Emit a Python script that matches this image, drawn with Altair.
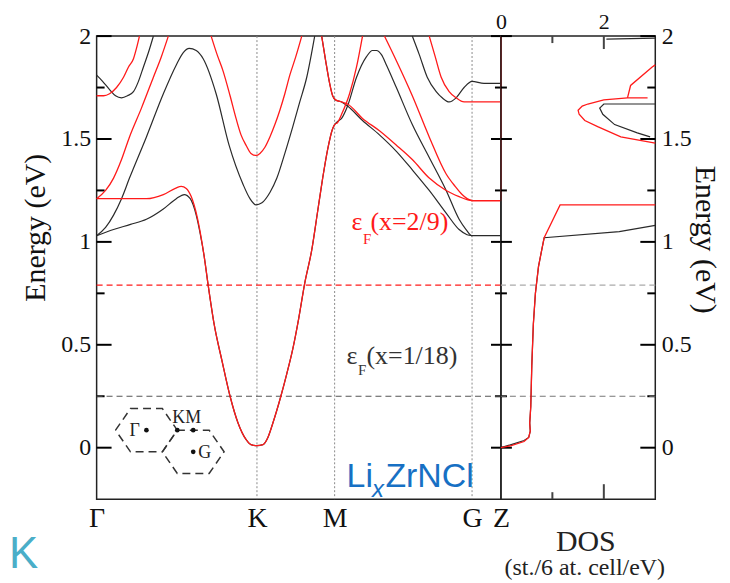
import altair as alt
import pandas as pd

SERIF = "Liberation Serif"
SANS = "Liberation Sans"
BLK = "#222222"
RED = "#ff1a1a"
TICKC = "#000000"

# ---------------- k-path and axes ----------------
KPATH_POS = [0.0, 1.61, 2.39, 3.77, 4.06]
KPATH_LAB = ["Γ", "K", "M", "G", "Z"]
SYM_LINES = [1.61, 2.39, 3.77]
E_MAJOR = [0, 0.5, 1, 1.5, 2]
E_MINOR = [0.25, 0.75, 1.25, 1.75]
DOS_LABELS = [0, 2]
DOS_MAJOR = [2]
DOS_MINOR = [1]
EF_HIGH = [0.79]   # eF(x=2/9)
EF_LOW = [0.25]    # eF(x=1/18)

K_MIN, K_MAX = 0.0, 4.06
E_MIN, E_MAX = -0.25, 2.0
D_MIN, D_MAX = 0.0, 3.0

# ---------------- bands (black: x=1/18, red: x=2/9) ----------------
B1_K = [0, 0.17, 0.34, 0.50, 0.67, 0.80, 0.88, 0.94, 1.00, 1.04, 1.08, 1.12, 1.18, 1.26, 1.34, 1.42, 1.50, 1.55, 1.61, 1.67,
        1.72, 1.77, 1.85, 1.91, 1.97, 2.03, 2.09, 2.16, 2.22, 2.27, 2.32, 2.37, 2.39, 2.42, 2.46, 2.52, 2.61, 2.71, 2.77, 2.81,
        2.86, 2.91, 3.01, 3.17, 3.34, 3.51, 3.64, 3.71, 3.77, 4.06]
B1_E = [1.03, 1.06, 1.085, 1.11, 1.16, 1.21, 1.23, 1.21, 1.13, 1.04, 0.93, 0.79, 0.60, 0.42, 0.25, 0.12, 0.04, 0.015, 0.01, 0.015,
        0.05, 0.12, 0.25, 0.36, 0.48, 0.63, 0.80, 0.96, 1.15, 1.31, 1.45, 1.55, 1.57, 1.585, 1.60, 1.66, 1.80, 1.90, 1.93, 1.93,
        1.91, 1.86, 1.75, 1.57, 1.41, 1.25, 1.11, 1.06, 1.03, 1.03]
B2_K = [2.26, 2.30, 2.34, 2.37, 2.40, 2.46, 2.52, 2.67, 2.84, 3.01, 3.17, 3.34, 3.51, 3.64, 3.72, 3.77]
B2_E = [2.0, 1.88, 1.77, 1.71, 1.69, 1.68, 1.66, 1.59, 1.52, 1.44, 1.35, 1.25, 1.14, 1.06, 1.035, 1.03]
B3_K = [0, 0.09, 0.17, 0.25, 0.33, 0.50, 0.67, 0.80, 0.87, 0.93, 1.00, 1.07, 1.20, 1.33, 1.47, 1.54, 1.60, 1.66, 1.74, 1.81,
        1.89, 1.97, 2.04, 2.11, 2.19]
B3_E = [1.03, 1.07, 1.13, 1.21, 1.31, 1.51, 1.72, 1.86, 1.92, 1.94, 1.93, 1.89, 1.72, 1.47, 1.28, 1.21, 1.18, 1.19, 1.24, 1.31,
        1.43, 1.56, 1.68, 1.80, 2.0]
B4_K = [0, 0.06, 0.13, 0.19, 0.25, 0.31, 0.37, 0.42, 0.47, 0.52, 0.57]
B4_E = [1.81, 1.78, 1.74, 1.71, 1.70, 1.71, 1.73, 1.78, 1.85, 1.92, 2.0]
B5_K = [3.17, 3.24, 3.32, 3.41, 3.47, 3.54, 3.61, 3.69, 3.77, 3.89, 4.06]
B5_E = [2.0, 1.91, 1.80, 1.73, 1.70, 1.68, 1.70, 1.75, 1.78, 1.77, 1.77]

R1_K = [0, 0.17, 0.34, 0.50, 0.67, 0.79, 0.85, 0.90, 0.95, 1.01, 1.05, 1.08, 1.12,
        1.18, 1.26, 1.34, 1.42, 1.50, 1.55, 1.61, 1.67, 1.72, 1.77, 1.85, 1.91, 1.97, 2.03, 2.09, 2.16, 2.22, 2.27, 2.32, 2.37,
        2.39, 2.42, 2.46, 2.54, 2.61, 2.67]
R1_E = [1.21, 1.21, 1.21, 1.21, 1.23, 1.26, 1.27, 1.26, 1.22, 1.12, 1.02, 0.93, 0.79,
        0.60, 0.42, 0.25, 0.12, 0.04, 0.015, 0.01, 0.015, 0.05, 0.12, 0.25, 0.36, 0.48, 0.63, 0.80, 0.96, 1.15, 1.31, 1.45, 1.55,
        1.57, 1.58, 1.62, 1.72, 1.85, 2.0]
R2_K = [2.26, 2.30, 2.34, 2.37, 2.40, 2.46, 2.52, 2.67, 2.84, 3.01, 3.17, 3.34, 3.51, 3.64, 3.72, 3.77, 4.06]
R2_E = [2.0, 1.88, 1.77, 1.71, 1.69, 1.68, 1.67, 1.60, 1.54, 1.47, 1.40, 1.31, 1.25, 1.22, 1.205, 1.20, 1.20]
R3_K = [2.89, 3.01, 3.17, 3.34, 3.51, 3.60, 3.67, 3.72, 3.77]
R3_E = [2.0, 1.88, 1.71, 1.51, 1.33, 1.27, 1.23, 1.21, 1.20]
R4_K = [0, 0.09, 0.17, 0.25, 0.33, 0.45, 0.57, 0.65, 0.72]
R4_E = [1.21, 1.25, 1.31, 1.40, 1.51, 1.65, 1.80, 1.90, 2.0]
R5_K = [1.15, 1.21, 1.27, 1.34, 1.40, 1.45, 1.50, 1.55, 1.60, 1.64, 1.69, 1.74, 1.79, 1.84, 1.89, 1.94, 2.00, 2.06]
R5_E = [2.0, 1.91, 1.83, 1.71, 1.60, 1.52, 1.47, 1.43, 1.42, 1.43, 1.46, 1.51, 1.57, 1.64, 1.72, 1.81, 1.90, 2.0]
R6_K = [0, 0.07, 0.13, 0.20, 0.27, 0.32, 0.37, 0.40, 0.43]
R6_E = [1.71, 1.71, 1.72, 1.75, 1.80, 1.85, 1.89, 1.94, 2.0]
R7_K = [3.34, 3.40, 3.46, 3.54, 3.61, 3.69, 3.77, 4.06]
R7_E = [2.0, 1.90, 1.80, 1.73, 1.70, 1.68, 1.68, 1.68]
RZ_K = [4.06]
RZ_E1 = [1.20]
RZ_E2 = [2.0]

# ---------------- DOS ----------------
DK_X = [0, 0.2, 0.45, 0.54, 0.57, 0.56, 0.58, 0.60, 0.63, 0.67, 0.73, 0.80, 0.84, 2.3, 3.0]
DK_E = [0.0, 0.015, 0.035, 0.05, 0.08, 0.12, 0.2, 0.4, 0.6, 0.75, 0.88, 0.97, 1.02, 1.05, 1.08]
DKL_X = [2.9, 2.65, 2.21, 1.98, 1.92, 2.0, 3.0]
DKL_E = [1.51, 1.53, 1.57, 1.62, 1.65, 1.67, 1.67]
DKT_X = [2.05, 3.0]
DKT_E = [1.985, 1.99]
DR_X = [0, 0.2, 0.45, 0.54, 0.57, 0.56, 0.58, 0.60, 0.63, 0.67, 0.73, 0.80, 0.84, 1.15, 3.0]
DR_E = [0.0, 0.01, 0.03, 0.05, 0.08, 0.12, 0.2, 0.4, 0.6, 0.75, 0.88, 0.97, 1.02, 1.18, 1.18]
DRL_X = [3.0, 2.33, 1.88, 1.63, 1.52, 1.50, 1.58, 1.69, 2.0, 2.46, 2.85]
DRL_E = [1.48, 1.51, 1.56, 1.59, 1.62, 1.64, 1.66, 1.67, 1.69, 1.70, 1.70]
DRT_X = [2.46, 2.52, 2.94, 3.0]
DRT_E = [1.70, 1.76, 1.85, 1.86]

# ---------------- Brillouin-zone inset ----------------
HEX1_K = [0.19, 0.34, 0.66, 0.81, 0.66, 0.34, 0.19]
HEX1_E = [0.085, 0.19, 0.19, 0.085, -0.02, -0.02, 0.085]
HEX2_K = [0.66, 0.81, 1.13, 1.28, 1.13, 0.81, 0.66]
HEX2_E = [-0.02, 0.085, 0.085, -0.02, -0.125, -0.125, -0.02]
DOT_K = [0.50, 0.81, 0.97, 0.97]
DOT_E = [0.085, 0.085, 0.085, -0.02]
INSET_LAB = ["Γ", "KM", "G"]
INSET_LAB_K = [0.33, 0.76, 1.02]
INSET_LAB_E = [0.055, 0.12, -0.05]

W_BAND, W_DOS, H_PLOT = 406, 155, 465


def lines_df(specs):
    rows = []
    for name, ks, es in specs:
        for i, (k, e) in enumerate(zip(ks, es)):
            rows.append({"band": name, "k": k, "e": e, "i": i})
    return pd.DataFrame(rows)


def dos_df(specs):
    rows = []
    for name, xs, es in specs:
        for i, (x, e) in enumerate(zip(xs, es)):
            rows.append({"c": name, "d": x, "e": e, "i": i})
    return pd.DataFrame(rows)


KS = alt.Scale(domain=[K_MIN, K_MAX], nice=False, zero=False)
ES = alt.Scale(domain=[E_MIN, E_MAX], nice=False, zero=False)
DS = alt.Scale(domain=[D_MIN, D_MAX], nice=False, zero=False)

lab_expr = " : ".join(
    f"abs(datum.value-{p})<0.01 ? '{l}'" for p, l in zip(KPATH_POS, KPATH_LAB)
) + " : ''"

X_AX = alt.Axis(values=KPATH_POS, labelExpr=lab_expr, ticks=False, domain=False, grid=False,
                labelFontSize=28, labelPadding=5, labelFlush=False, labelOverlap=False, title=None)
Y_AX = alt.Axis(values=E_MAJOR, format="~g", ticks=False, domain=False, grid=False,
                labelFontSize=24, labelPadding=6, title="Energy (eV)", titleFontSize=30,
                titleAngle=270, titleX=-61, titleY=192, titleAlign="center", titleBaseline="middle")
XD_AX = alt.Axis(orient="top", values=DOS_LABELS, format="~g", ticks=False, domain=False, grid=False,
                 labelFontSize=22, labelPadding=3, labelFlush=False, title=None)
YD_AX = alt.Axis(orient="right", values=E_MAJOR, format="~g", ticks=False, domain=False, grid=False,
                 labelFontSize=24, labelPadding=6, title="Energy (eV)", titleFontSize=30,
                 titleAngle=90, titleX=49, titleY=204, titleAlign="center", titleBaseline="middle")

XB = alt.X("k:Q", scale=KS, axis=X_AX)
YB = alt.Y("e:Q", scale=ES, axis=Y_AX)
XD = alt.X("d:Q", scale=DS, axis=XD_AX)
YD = alt.Y("e:Q", scale=ES, axis=YD_AX)

# ---------------- band panel ----------------
sym = alt.Chart(pd.DataFrame({"k": SYM_LINES})).mark_rule(
    color="#8a8a8a", strokeDash=[2, 2], strokeWidth=1).encode(x=XB)
ef_hi = alt.Chart(pd.DataFrame({"e": EF_HIGH})).mark_rule(
    color=RED, strokeDash=[6, 4], strokeWidth=1.3).encode(y=YB)
ef_lo = alt.Chart(pd.DataFrame({"e": EF_LOW})).mark_rule(
    color="#555555", strokeDash=[6, 4], strokeWidth=1.2).encode(y=YB)

blk = lines_df([("b1", B1_K, B1_E), ("b2", B2_K, B2_E), ("b3", B3_K, B3_E),
                ("b4", B4_K, B4_E), ("b5", B5_K, B5_E)])
red = lines_df([("r1", R1_K, R1_E), ("r2", R2_K, R2_E), ("r3", R3_K, R3_E), ("r4", R4_K, R4_E),
                ("r5", R5_K, R5_E), ("r6", R6_K, R6_E), ("r7", R7_K, R7_E)])
blk_l = alt.Chart(blk).mark_line(color="#2a2a2a", strokeWidth=1.2, interpolate="monotone").encode(
    x=XB, y=YB, detail="band:N")
red_l = alt.Chart(red).mark_line(color=RED, strokeWidth=1.3, interpolate="monotone").encode(
    x=XB, y=YB, detail="band:N")
red_z = alt.Chart(pd.DataFrame({"k": RZ_K, "e": RZ_E1, "e2": RZ_E2})).mark_rule(
    color=RED, strokeWidth=1.5).encode(x=XB, y=YB, y2="e2:Q")

hexes = lines_df([("h1", HEX1_K, HEX1_E), ("h2", HEX2_K, HEX2_E)])
hex_l = alt.Chart(hexes).mark_line(color="#333333", strokeWidth=1.5, strokeDash=[8, 5]).encode(
    x=XB, y=YB, detail="band:N", order="i:Q")
dots = alt.Chart(pd.DataFrame({"k": DOT_K, "e": DOT_E})).mark_point(
    filled=True, size=22, color="#111111", opacity=1).encode(x=XB, y=YB)
inset_t = alt.Chart(pd.DataFrame({"k": INSET_LAB_K, "e": INSET_LAB_E, "t": INSET_LAB})).mark_text(
    font=SERIF, fontSize=18, align="left", baseline="alphabetic", color="#222222").encode(
    x=XB, y=YB, text="t:N")


def txt(k, e, s, size, color, font=SERIF, italic=False):
    kw = dict(font=font, fontSize=size, align="left", baseline="alphabetic", color=color, text=s)
    if italic:
        kw["fontStyle"] = "italic"
    return alt.Chart(pd.DataFrame({"k": [k], "e": [e]})).mark_text(**kw).encode(x=XB, y=YB)


ann = [
    txt(2.56, 1.058, "ε", 26, RED), txt(2.675, 0.99, "F", 15, RED), txt(2.75, 1.058, "(x=2/9)", 26, RED),
    txt(2.51, 0.405, "ε", 26, "#333333"), txt(2.625, 0.355, "F", 15, "#333333"),
    txt(2.71, 0.405, "(x=1/18)", 26, "#333333"),
    txt(2.51, -0.193, "Li", 34, "#1770c4", SANS), txt(2.765, -0.24, "x", 24, "#1770c4", SANS, True),
    txt(2.9, -0.193, "ZrNCl", 34, "#1770c4", SANS),
]

teal_k = alt.Chart(pd.DataFrame({"k": [0]})).mark_text(
    text="K", font=SANS, fontSize=44, align="left", baseline="alphabetic", color="#4aaec8").encode(
    x=alt.value(-88), y=alt.value(534))


def hticks(vals, x0, x1, Y, color=TICKC):
    return alt.Chart(pd.DataFrame({"e": vals})).mark_rule(color=color, strokeWidth=2).encode(
        y=Y, x=alt.value(x0), x2=alt.value(x1))


def vticks(vals, y0, y1, X, color="#444444"):
    return alt.Chart(pd.DataFrame({"d": vals})).mark_rule(color=color, strokeWidth=2).encode(
        x=X, y=alt.value(y0), y2=alt.value(y1))


tk_band = [
    hticks(E_MAJOR, 0, 15, YB), hticks(E_MINOR, 0, 8, YB),
    hticks(E_MAJOR, W_BAND - 10, W_BAND, YB), hticks(E_MINOR, W_BAND - 6, W_BAND, YB),
]

band = alt.layer(*tk_band, sym, ef_hi, ef_lo, blk_l, red_l, red_z, hex_l, dots, inset_t, *ann,
                 teal_k).properties(width=W_BAND, height=H_PLOT)

# ---------------- DOS panel ----------------
d_ef_hi = alt.Chart(pd.DataFrame({"e": EF_HIGH})).mark_rule(
    color="#aaaaaa", strokeDash=[6, 4], strokeWidth=1.3).encode(y=YD)
d_ef_lo = alt.Chart(pd.DataFrame({"e": EF_LOW})).mark_rule(
    color="#777777", strokeDash=[6, 4], strokeWidth=1.2).encode(y=YD)
dblk = dos_df([("k0", DK_X, DK_E), ("k1", DKL_X, DKL_E), ("k2", DKT_X, DKT_E)])
dred = dos_df([("r0", DR_X, DR_E), ("r1", DRL_X, DRL_E), ("r2", DRT_X, DRT_E)])
dblk_l = alt.Chart(dblk).mark_line(color="#2a2a2a", strokeWidth=1.2).encode(
    x=XD, y=YD, detail="c:N", order="i:Q")
dred_l = alt.Chart(dred).mark_line(color=RED, strokeWidth=1.3).encode(
    x=XD, y=YD, detail="c:N", order="i:Q")

tk_dos = [
    hticks(E_MAJOR, 0, 11, YD), hticks(E_MINOR, 0, 6, YD),
    hticks(E_MAJOR, W_DOS - 15, W_DOS, YD), hticks(E_MINOR, W_DOS - 8, W_DOS, YD),
    vticks(DOS_MAJOR, 0, 13, XD), vticks(DOS_MINOR, 0, 7, XD),
    vticks(DOS_MAJOR, H_PLOT - 15, H_PLOT, XD), vticks(DOS_MINOR, H_PLOT - 7, H_PLOT, XD),
]

dos_title = alt.Chart(pd.DataFrame({"d": [1.65]})).mark_text(
    text="DOS", font=SERIF, fontSize=30, align="center", baseline="alphabetic", color="#222222").encode(
    x=XD, y=alt.value(517))
dos_sub = alt.Chart(pd.DataFrame({"d": [1.63]})).mark_text(
    text="(st./6 at. cell/eV)", font=SERIF, fontSize=24, align="center", baseline="alphabetic",
    color="#222222").encode(x=XD, y=alt.value(541))

dos = alt.layer(*tk_dos, d_ef_hi, d_ef_lo, dblk_l, dred_l, dos_title, dos_sub).properties(
    width=W_DOS, height=H_PLOT)

chart = alt.hconcat(band, dos, spacing=0, bounds="flush").resolve_scale(
    x="independent", y="independent").properties(
    padding={"left": 0, "top": 0, "right": 2, "bottom": 0}
).configure_view(stroke="#222222", strokeWidth=1.5).configure_axis(
    labelFont=SERIF, titleFont=SERIF, labelColor="#111111", titleColor="#111111", titleFontWeight="normal"
)

chart.save("out.html", embed_options={"renderer": "svg", "actions": False})
